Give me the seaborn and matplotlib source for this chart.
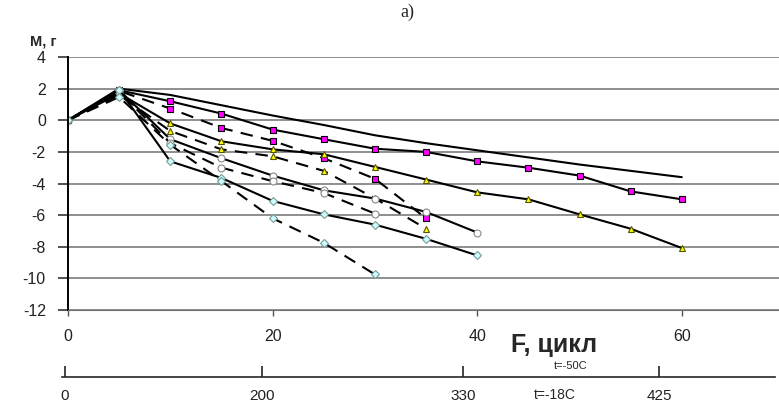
import matplotlib
matplotlib.use('Agg')
import matplotlib.pyplot as plt
import pandas as pd
import seaborn as sns

# данные: потеря массы М (г) по циклам F
cycles = [0, 5, 10, 15, 20, 25, 30, 35, 40, 45, 50, 55, 60]

top_plain = [0, 2.0, 1.6, 0.95, 0.3, -0.3, -0.95, -1.45, -1.9, -2.35, -2.8, -3.2, -3.6]
sq_solid = [0, 1.9, 1.2, 0.42, -0.59, -1.2, -1.8, -2.0, -2.6, -3.0, -3.5, -4.5, -5.0]
sq_dash = [0, 1.85, 0.74, -0.49, -1.3, -2.4, -3.7, -6.2]
tri_solid = [0, 1.7, -0.2, -1.33, -1.84, -2.15, -2.95, -3.75, -4.56, -5.0, -5.95, -6.86, -8.08]
tri_dash = [0, 1.6, -0.68, -1.84, -2.28, -3.2, -4.94, -6.86]
circ_solid = [0, 1.9, -1.2, -2.4, -3.5, -4.43, -4.95, -5.8, -7.1]
circ_dash = [0, 1.8, -1.45, -3.0, -3.85, -4.6, -5.9]
dia_solid = [0, 1.94, -2.6, -3.65, -5.1, -5.95, -6.6, -7.5, -8.55]
dia_dash = [0, 1.47, -1.55, -3.85, -6.2, -7.75, -9.75]

y_ticks = [-12, -10, -8, -6, -4, -2, 0, 2, 4]
x_ticks = [0, 20, 40, 60]
cycles_18 = ['0', '200', '330', '425']

sns.set_style('white')
plt.rcParams['font.family'] = ['Liberation Sans', 'DejaVu Sans']

fig = plt.figure(figsize=(7.79, 4.07), dpi=100)
ax = fig.add_axes([68 / 779, 1 - 310 / 407, (779 - 68) / 779, 253 / 407])

dash = (0, (6, 4))
series = [
    (top_plain, None, 'none', 'none', '-'),
    (sq_solid, 's', '#ff00ff', '#000000', '-'),
    (sq_dash, 's', '#ff00ff', '#000000', dash),
    (tri_solid, '^', '#ffff00', '#555500', '-'),
    (tri_dash, '^', '#ffff00', '#555500', dash),
    (circ_solid, 'o', '#ffffff', '#888888', '-'),
    (circ_dash, 'o', '#ffffff', '#888888', dash),
    (dia_solid, 'D', '#ccffff', '#7a9a9a', '-'),
    (dia_dash, 'D', '#ccffff', '#7a9a9a', dash),
]

for vals, mk, fc, ec, ls in series:
    df = pd.DataFrame({'F': cycles[:len(vals)], 'M': vals})
    kw = dict(color='black', linewidth=1.5, linestyle=ls, ax=ax)
    if mk is not None:
        kw.update(marker=mk, markersize=5 if mk != 'D' else 4,
                  markerfacecolor=fc, markeredgecolor=ec, markeredgewidth=0.8)
    sns.lineplot(data=df, x='F', y='M', **kw)

ax.set_xlim(0, 69.5)
ax.set_ylim(-12, 4)
ax.set_yticks(y_ticks)
ax.set_yticklabels([str(v) for v in y_ticks])
ax.set_xticks(x_ticks)
ax.set_xlabel('')
ax.set_ylabel('')
for v in y_ticks:
    ax.axhline(v, color='#707070', linewidth=1.1, zorder=0)
for s in ['top', 'right']:
    ax.spines[s].set_visible(False)
ax.spines['left'].set_color('black')
ax.spines['left'].set_linewidth(1.4)
ax.spines['bottom'].set_color('#707070')
ax.tick_params(axis='y', direction='out', length=7, width=1.2, pad=9,
               labelsize=11.5, labelcolor='#222222', color='#333333', left=True)
ax.tick_params(axis='x', direction='out', length=4, width=1, pad=10,
               labelsize=11.5, labelcolor='#222222', color='#555555', bottom=True)

# вторая шкала (t=-18C)
ax2 = fig.add_axes([62 / 779, 1 - 377 / 407, (775 - 62) / 779, 0.001])
ax2.set_xlim(62, 775)
ax2.set_xticks([65, 262, 463, 659])
ax2.set_xticklabels(cycles_18)
ax2.set_yticks([])
for s in ['top', 'right', 'left']:
    ax2.spines[s].set_visible(False)
ax2.spines['bottom'].set_linewidth(1.2)
ax2.tick_params(axis='x', direction='in', length=8, width=1.2, pad=9,
                labelsize=11, labelcolor='#222222', bottom=True)
ax2.patch.set_alpha(0)

fig.text(407 / 779, 1 - 12 / 407, 'а)', ha='center', va='center',
         fontsize=13, family='Liberation Serif')
fig.text(30 / 779, 1 - 42 / 407, 'М, г', ha='left', va='center',
         fontsize=10.5, fontweight='bold')
fig.text(554 / 779, 1 - 345 / 407, 'F, цикл', ha='center', va='center',
         fontsize=18, fontweight='bold')
fig.text(571 / 779, 1 - 366 / 407, 't=-50C', ha='center', va='center',
         fontsize=8)
fig.text(555 / 779, 1 - 395 / 407, 't=-18C', ha='center', va='center',
         fontsize=10)

fig.savefig('out.png', dpi=100)
